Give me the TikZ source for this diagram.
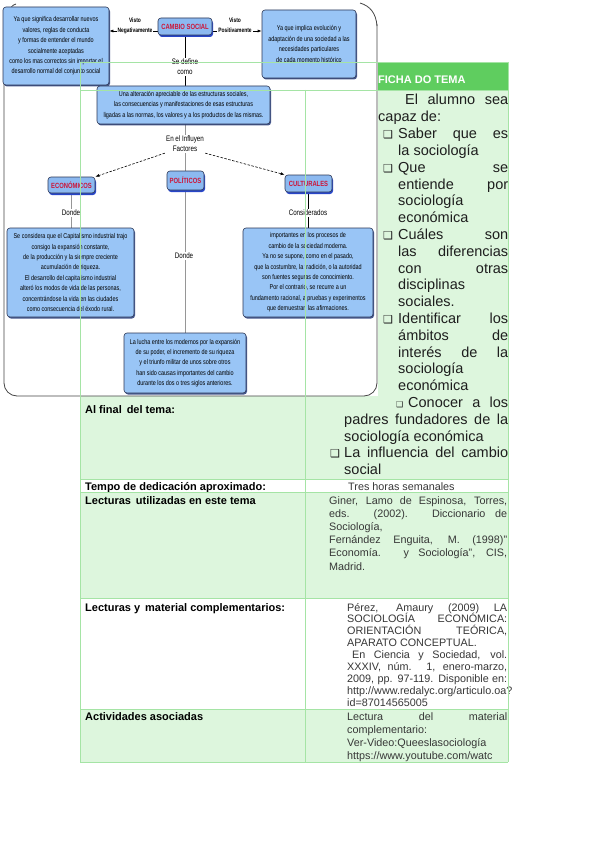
\documentclass[tikz,border=0pt]{standalone}
\usepackage{fontspec}
\setmainfont{Liberation Sans}
\newfontfamily\mapfont[FakeStretch=0.78]{Liberation Sans}
\newfontfamily\symfont{DejaVu Sans}
\usetikzlibrary{shadows,arrows.meta}
\pgfdeclarelayer{bgfill}
\pgfdeclarelayer{conn}
\pgfdeclarelayer{grid}
\pgfsetlayers{bgfill,conn,main,grid}
\definecolor{mapblue}{RGB}{153,197,246}
\definecolor{mapborder}{RGB}{45,55,85}
\definecolor{shadowblue}{RGB}{50,70,130}
\definecolor{catblue}{RGB}{140,185,240}
\definecolor{catshadow}{RGB}{40,70,200}
\definecolor{catred}{RGB}{205,20,55}
\definecolor{hdrgreen}{RGB}{95,205,95}
\definecolor{palegreen}{RGB}{221,246,221}
\definecolor{gridgreen}{RGB}{165,228,165}
\definecolor{txtgray}{RGB}{55,55,55}
\definecolor{lsttxt}{RGB}{30,30,30}
\definecolor{framegray}{RGB}{70,70,70}
\definecolor{linegray}{RGB}{150,150,150}
\newcommand\JL[2]{\makebox[#1][s]{#2}}
\newcommand\bxx{{\symfont\fontsize{11}{11}\selectfont ❑}}
\newcommand\sbx{{\symfont\fontsize{8}{8}\selectfont ❑}}
\begin{document}
\begin{tikzpicture}[x=1pt,y=-1pt,
  mapbox/.style={rectangle, rounded corners=3pt, draw=mapborder, line width=0.6pt, fill=mapblue, align=center, inner sep=1pt, font=\mapfont\fontsize{7}{10.4}\selectfont, drop shadow={shadow xshift=1pt, shadow yshift=-1.5pt, fill=shadowblue, opacity=0.9}},
  catbox/.style={rectangle, rounded corners=3pt, draw=mapborder, line width=0.6pt, fill=catblue, inner sep=1pt, text=catred, font=\mapfont\fontsize{7.5}{9}\selectfont\bfseries, drop shadow={shadow xshift=1pt, shadow yshift=-2pt, fill=catshadow, opacity=1}},
  lbl/.style={fill=white, inner sep=1pt, align=center, font=\mapfont\fontsize{8}{10}\selectfont},
  blbl/.style={fill=white, inner sep=1pt, align=center, font=\mapfont\fontsize{6.3}{10}\selectfont\bfseries},
  conn/.style={line width=0.6pt},
  dconn/.style={line width=0.6pt, dash pattern=on 2.5pt off 1.5pt, -{Latex[length=4pt,width=3pt]}},
  frame/.style={framegray, line width=0.8pt},
  gridline/.style={gridgreen, line width=0.8pt},
  lst/.style={anchor=base west, inner sep=0pt, text=lsttxt, font=\fontsize{14.5}{17}\selectfont},
  rt/.style={anchor=base west, inner sep=0pt, text=txtgray, font=\fontsize{10.8}{12}\selectfont},
  lt/.style={anchor=base west, inner sep=0pt, font=\fontsize{11}{13}\selectfont\bfseries}
]
\useasboundingbox (0,0) rectangle (599,848);
\begin{pgfonlayer}{bgfill}
  \fill[white] (0,0) rectangle (599,848);
  \fill[hdrgreen] (305,62) rectangle (508,90);
  \fill[palegreen] (80,90) rectangle (508,479.5);
  \fill[palegreen] (80,492.5) rectangle (508,598);
  \fill[palegreen] (80,709) rectangle (508,762);
  \fill[white] (0,0) rectangle (378,396);
\end{pgfonlayer}

% ---------- concept map ----------
\node[mapbox, minimum width=106pt, minimum height=78pt] (tl) at (56,46)
  {Ya que significa desarrollar nuevos\\valores, reglas de conducta\\y formas de entender el mundo\\socialmente aceptadas\\como los mas correctos sin importar el\\desarrollo normal del conjunto social};
\node[catbox, minimum width=54pt, minimum height=17pt] (cambio) at (185,26.5) {CAMBIO SOCIAL};
\node[mapbox, minimum width=94pt, minimum height=68pt] (tr) at (309,44)
  {Ya que implica evolución y\\adaptación de una sociedad a las\\necesidades particulares\\de cada momento histórico};
\node[mapbox, minimum width=173pt, minimum height=38pt] (mid) at (183.5,105)
  {Una alteración apreciable de las estructuras sociales,\\las consecuencias y manifestaciones de esas estructuras\\ligadas a las normas, los valores y a los productos de las mismas.};
\node[catbox, minimum width=47pt, minimum height=16pt] (econ) at (71.5,185) {ECONÓMICOS};
\node[catbox, minimum width=37pt, minimum height=19pt] (pol) at (185.5,180.5) {POLÍTICOS};
\node[catbox, minimum width=47pt, minimum height=17pt] (cult) at (308.5,183.5) {CULTURALES};
\node[mapbox, minimum width=127pt, minimum height=89pt] (ebox) at (70.5,272.5)
  {Se considera que el Capitalismo industrial trajo\\consigo la expansión constante,\\de la producción y la siempre creciente\\acumulación de riqueza.\\El desarrollo del capitalismo industrial\\alteró los modos de vida de las personas,\\concentrándose la vida en las ciudades\\como consecuencia del éxodo rural.};
\node[mapbox, minimum width=130pt, minimum height=89pt] (cbox) at (308,272.5)
  {importantes en los procesos de\\cambio de la sociedad moderna.\\Ya no se supone, como en el pasado,\\que la costumbre, la tradición, o la autoridad\\son fuentes seguras de conocimiento.\\Por el contrario, se recurre a un\\fundamento racional, a pruebas y experimentos\\que demuestran las afirmaciones.};
\node[mapbox, minimum width=122pt, minimum height=60pt] (bbox) at (185,363)
  {La lucha entre los modernos por la expansión\\de su poder, el incremento de su riqueza\\y el triunfo militar de unos sobre otros\\han sido causas importantes del cambio\\durante los dos o tres siglos anteriores.};

\node[blbl] (vneg) at (135,25.5) {Visto\\Negativamente};
\node[blbl] (vpos) at (235,25.5) {Visto\\Positivamente};
\node[lbl] (sedef) at (185,67) {Se define\\como};
\node[lbl] (infl) at (185,144) {En el Influyen\\Factores};
\node[lbl] (donde1) at (71,213) {Donde};
\node[lbl] (donde2) at (184,256) {Donde};
\node[lbl] (consid) at (308,213) {Considerados};

\coordinate (cnw) at ([yshift=-4.5pt]cambio.west);
\coordinate (cne) at ([yshift=-4.5pt]cambio.east);
\begin{pgfonlayer}{conn}
  \draw[frame, rounded corners=13pt] (4,14) -- (4,396) -- (377,396) -- (377,24);
  \draw[frame] (377,26) .. controls (376,13) and (370,6) .. (360,3);
  \draw[frame] (9,13) .. controls (10,8) and (12,5) .. (16,4);
  \draw[conn, -{Latex[length=4pt,width=3pt]}] (cnw) -- (cnw -| tl.east);
  \draw[conn, -{Latex[length=4pt,width=3pt]}] (cne) -- (cne -| tr.west);
  \draw[conn, black] (cambio.south) -- (cambio.south |- mid.north);
  \draw[conn, linegray] (pol.north |- mid.south) -- (pol.north);
  \draw[dconn] (infl.south west) -- (econ.north east);
  \draw[dconn] (infl.south east) -- (cult.north west);
  \draw[conn, linegray] (econ.south) -- (econ.south |- ebox.north);
  \draw[conn, linegray] (pol.south) -- (pol.south |- bbox.north);
  \draw[conn, black] (cult.south) -- (cult.south |- cbox.north);
\end{pgfonlayer}

% ---------- table ----------
\node[anchor=base west, inner sep=0pt, text=white, font=\fontsize{11}{13}\selectfont\bfseries] (hdr) at (378,84) {FICHA DO TEMA};

\node[lst] (l1) at (405,105) {\JL{103pt}{El alumno sea}};
\node[lst] (l2) at (378,121.8) {capaz de:};
\node[lst] (b1) at (383,138.6) {\bxx};
\node[lst] (l3) at (398,138.6) {\JL{110pt}{Saber que es}};
\node[lst] (l4) at (398,155.4) {la sociología};
\node[lst] (b2) at (383,172.2) {\bxx};
\node[lst] (l5) at (398,172.2) {\JL{110pt}{Que se}};
\node[lst] (l6) at (398,189.0) {\JL{110pt}{entiende por}};
\node[lst] (l7) at (398,205.8) {sociología};
\node[lst] (l8) at (398,222.6) {económica};
\node[lst] (b3) at (383,239.4) {\bxx};
\node[lst] (l9) at (398,239.4) {\JL{110pt}{Cuáles son}};
\node[lst] (l10) at (398,256.2) {\JL{110pt}{las diferencias}};
\node[lst] (l11) at (398,273.0) {\JL{110pt}{con otras}};
\node[lst] (l12) at (398,289.8) {disciplinas};
\node[lst] (l13) at (398,306.6) {sociales.};
\node[lst] (b4) at (383,323.4) {\bxx};
\node[lst] (l14) at (398,323.4) {\JL{110pt}{Identificar los}};
\node[lst] (l15) at (398,340.2) {\JL{110pt}{ámbitos de}};
\node[lst] (l16) at (398,357.0) {\JL{110pt}{interés de la}};
\node[lst] (l17) at (398,373.8) {sociología};
\node[lst] (l18) at (398,390.6) {económica};
\node[lst] (b5) at (396,407.4) {\sbx};
\node[lst] (l19) at (408,407.4) {\JL{100pt}{Conocer a los}};
\node[lst] (l20) at (344,424.2) {\JL{164pt}{padres fundadores de la}};
\node[lst] (l21) at (344,441.0) {sociología económica};
\node[lst] (b6) at (330,457.8) {\bxx};
\node[lst] (l22) at (344,457.8) {\JL{164pt}{La influencia del cambio}};
\node[lst] (l23) at (344,474.6) {social};

\node[lt] (k1) at (85,413) {Al final\, del tema:};
\node[lt] (k2) at (85,490.5) {Tempo de dedicación aproximado:};
\node[lt] (k3) at (85,504) {Lecturas\, utilizadas en este tema};
\node[lt] (k4) at (85,611) {Lecturas y\, material complementarios:};
\node[lt] (k5) at (85,720) {Actividades asociadas};

\node[rt] (t1) at (348,490.5) {Tres horas semanales};

\node[rt] (g1) at (329,504) {\JL{178pt}{Giner, Lamo de Espinosa, Torres,}};
\node[rt] (g2) at (329,517.2) {\JL{178pt}{eds. (2002). Diccionario de}};
\node[rt] (g3) at (329,530.4) {Sociología,};
\node[rt] (g4) at (329,543.6) {\JL{178pt}{Fernández Enguita, M. (1998)”}};
\node[rt] (g5) at (329,556.8) {\JL{178pt}{Economía. y Sociología”, CIS,}};
\node[rt] (g6) at (329,570) {Madrid.};

\node[rt] (p1) at (347,611) {\JL{160pt}{Pérez, Amaury (2009) LA}};
\node[rt] (p2) at (347,622.9) {\JL{160pt}{SOCIOLOGÍA ECONÓMICA:}};
\node[rt] (p3) at (347,634.8) {\JL{160pt}{ORIENTACIÓN TEÓRICA,}};
\node[rt] (p4) at (347,646.7) {APARATO CONCEPTUAL.};
\node[rt] (p5) at (352,658.6) {\JL{155pt}{En Ciencia y Sociedad, vol.}};
\node[rt] (p6) at (347,670.5) {\JL{160pt}{XXXIV, núm. 1, enero-marzo,}};
\node[rt] (p7) at (347,682.4) {\JL{160pt}{2009, pp. 97-119. Disponible en:}};
\node[rt] (p8) at (347,694.3) {http://www.redalyc.org/articulo.oa?};
\node[rt] (p9) at (347,706.2) {id=87014565005};

\node[rt] (a1) at (347,720) {\JL{160pt}{Lectura del material}};
\node[rt] (a2) at (347,733) {complementario:};
\node[rt] (a3) at (347,746) {Ver-Video:Queeslasociología};
\node[rt] (a4) at (347,759) {https://www.youtube.com/watc};

\begin{pgfonlayer}{grid}
  \draw[gridline] (80,62) -- (508,62);
  \draw[gridline] (80,90) -- (508,90);
  \draw[gridline] (80,479.5) -- (508,479.5);
  \draw[gridline] (80,492.5) -- (508,492.5);
  \draw[gridline] (80,598) -- (508,598);
  \draw[gridline] (80,709) -- (508,709);
  \draw[gridline] (80,762) -- (508,762);
  \draw[gridline] (80,62) -- (80,762);
  \draw[gridline] (508,62) -- (508,762);
  \draw[gridline] (305,90) -- (305,762);
\end{pgfonlayer}
\end{tikzpicture}
\end{document}
